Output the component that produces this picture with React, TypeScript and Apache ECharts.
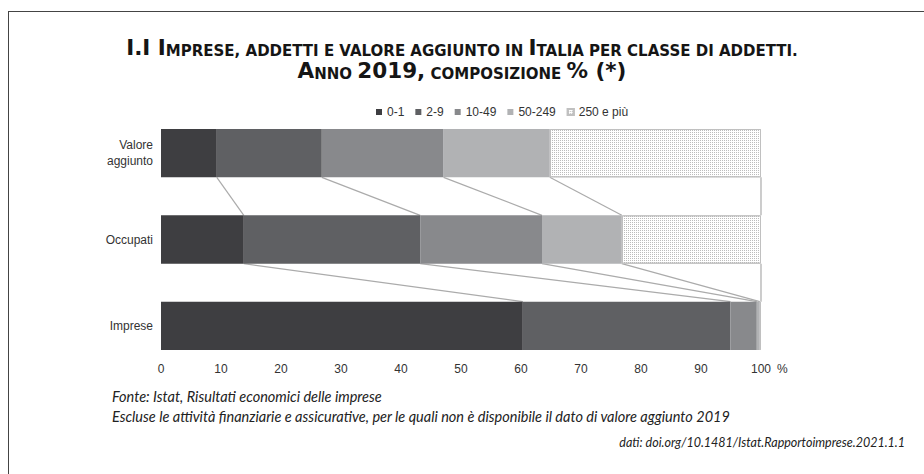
import React, { useEffect, useRef } from "react";
import * as echarts from "echarts";

const categories = ["Valore\naggiunto", "Occupati", "Imprese"];
const classes = ["0-1", "2-9", "10-49", "50-249", "250 e più"];
const share01 = [9.3, 13.8, 60.3];
const share29 = [17.5, 29.4, 34.6];
const share1049 = [20.3, 20.3, 4.4];
const share50249 = [17.7, 13.3, 0.5];
const share250 = [35.2, 23.2, 0.2];
const xTicks = [0, 10, 20, 30, 40, 50, 60, 70, 80, 90, 100];

const classColors = ["#3e3e41", "#5f6063", "#88898c", "#b1b2b4", "#ffffff"];
const SANS = "'Liberation Sans', Arial, sans-serif";
const TITLEF = "'DejaVu Sans', sans-serif";
const ITAL = "Lato, 'Open Sans', sans-serif";

export default function App() {
  const ref = useRef<HTMLDivElement>(null);
  useEffect(() => {
    if (!ref.current) return;
    const chart = echarts.init(ref.current, undefined, { renderer: "svg" });
    const seriesValues = [share01, share29, share1049, share50249, share250];

    const cumulative = categories.map((_, ci) => {
      let s = 0;
      return seriesValues.map((arr) => {
        s += arr[ci];
        return Math.round(s * 10) / 10;
      });
    });
    const connectors: number[][] = [];
    for (let ci = 0; ci < categories.length - 1; ci++) {
      for (let k = 0; k < classes.length; k++) {
        connectors.push([cumulative[ci][k], ci, cumulative[ci + 1][k], ci + 1]);
      }
    }
    const barFrac = 0.56;

    const barSeries = classes.map((name, i) => ({
      name,
      type: "bar",
      stack: "total",
      barWidth: "56%",
      data: seriesValues[i],
      z: 3,
      itemStyle:
        i === 4
          ? {
              color: "#ffffff",
              borderColor: "#c0c0c0",
              borderWidth: 1,
              decal: {
                symbol: "rect",
                symbolSize: 1,
                color: "rgba(160,160,160,0.7)",
                dashArrayX: [1, 1],
                dashArrayY: [1, 1],
                rotation: 0,
              },
            }
          : { color: classColors[i] },
    }));

    chart.setOption({
      animation: false,
      backgroundColor: "#ffffff",
      title: {
        left: "center",
        top: 30,
        text:
          "{b|I.I I}{s|MPRESE, ADDETTI E VALORE AGGIUNTO IN }{b|I}{s|TALIA PER CLASSE DI ADDETTI.}\n{b|A}{s|NNO }{b|2019,}{s| COMPOSIZIONE }{b|% (*)}",
        textStyle: {
          lineHeight: 23,
          rich: {
            b: { fontFamily: TITLEF, fontWeight: "bold", fontSize: 21.5, lineHeight: 23, verticalAlign: "bottom", color: "#151515" },
            s: { fontFamily: TITLEF, fontWeight: "bold", fontSize: 15, lineHeight: 18.5, verticalAlign: "bottom", color: "#151515" },
          },
        },
      },
      legend: {
        data: classes,
        top: 101,
        left: 371,
        itemWidth: 6,
        itemHeight: 6,
        itemGap: 11,
        icon: "rect",
        textStyle: { fontFamily: SANS, fontSize: 12, color: "#333" },
      },
      grid: { left: 161, right: 163, top: 110, bottom: 105, containLabel: false },
      xAxis: {
        type: "value",
        min: 0,
        max: 100,
        interval: 10,
        axisLine: { show: false },
        axisTick: { show: false },
        splitLine: { show: false },
        axisLabel: {
          margin: -6,
          fontFamily: SANS,
          fontSize: 12,
          color: "#333",
          formatter: (v: number) => (xTicks.includes(v) ? String(v) : ""),
        },
        name: "%",
        nameLocation: "end",
        nameGap: 15,
        nameTextStyle: { fontFamily: SANS, fontSize: 12, color: "#333", padding: [0, 0, 8, 0] },
      },
      yAxis: {
        type: "category",
        data: categories,
        inverse: true,
        axisLine: { show: false },
        axisTick: { show: false },
        axisLabel: { margin: 8, fontFamily: SANS, fontSize: 12, color: "#333", lineHeight: 16, align: "right" },
      },
      series: [
        ...barSeries,
        {
          type: "custom",
          name: "connettori",
          z: 2,
          silent: true,
          encode: { x: [0, 2], y: [1, 3] },
          data: connectors,
          renderItem: (params: any, api: any) => {
            const p1 = api.coord([api.value(0), api.value(1)]);
            const p2 = api.coord([api.value(2), api.value(3)]);
            const band = api.size([0, 1])[1];
            const half = (band * barFrac) / 2;
            return {
              type: "line",
              shape: { x1: p1[0], y1: p1[1] + half, x2: p2[0], y2: p2[1] - half },
              style: { stroke: "#ababab", lineWidth: 1.2 },
            };
          },
        },
      ],
      graphic: [
        { type: "line", shape: { x1: 8, y1: 11.5, x2: 924, y2: 11.5 }, style: { stroke: "#444", lineWidth: 1 } },
        { type: "line", shape: { x1: 8.5, y1: 11, x2: 8.5, y2: 474 }, style: { stroke: "#444", lineWidth: 1 } },
        {
          type: "text",
          left: 112,
          top: 389,
          style: { text: "Fonte: Istat, Risultati economici delle imprese", font: `italic 14.5px ${ITAL}`, fill: "#222" },
        },
        {
          type: "text",
          left: 112,
          top: 409,
          style: {
            text: "Escluse le attività finanziarie e assicurative, per le quali non è disponibile il dato di valore aggiunto 2019",
            font: `italic 14.5px ${ITAL}`,
            fill: "#222",
          },
        },
        {
          type: "text",
          right: 19,
          top: 436,
          style: { text: "dati: doi.org/10.1481/Istat.Rapportoimprese.2021.1.1", font: `italic 12.5px ${ITAL}`, fill: "#222" },
        },
      ],
    });
    return () => chart.dispose();
  }, []);
  return <div ref={ref} style={{ position: "fixed", left: 0, top: 0, width: 924, height: 474 }} />;
}
